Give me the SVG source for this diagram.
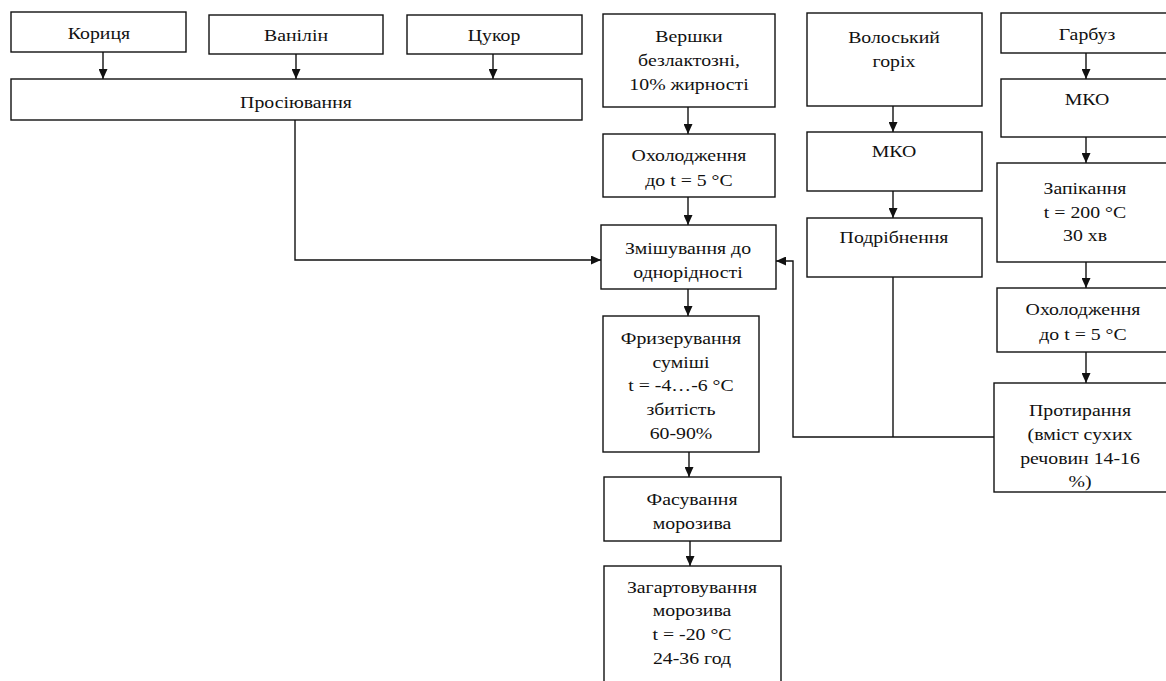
<svg xmlns="http://www.w3.org/2000/svg" width="1166" height="681" viewBox="0 0 1166 681" font-family="'Liberation Serif', 'DejaVu Serif', serif">
<defs>
<style>
rect{fill:#fff;stroke:#111;stroke-width:1.4}
text{font-family:'Liberation Serif','DejaVu Serif',serif;font-size:16.5px;fill:#111;text-anchor:middle}
.c{fill:none;stroke:#111;stroke-width:1.4}
</style>
<marker id="ah" markerUnits="userSpaceOnUse" markerWidth="10" markerHeight="9" refX="10" refY="4.5" orient="auto">
<path d="M0,0 L10,4.5 L0,9 z" fill="#111"/>
</marker>
</defs>
<rect x="0" y="0" width="1166" height="681" style="fill:#fff;stroke:none"/>
<g id="connectors">
<path class="c" marker-end="url(#ah)" d="M103,52 V79"/>
<path class="c" marker-end="url(#ah)" d="M296,54 V79"/>
<path class="c" marker-end="url(#ah)" d="M493,54 V79"/>
<path class="c" marker-end="url(#ah)" d="M295,120 V260 H601"/>
<path class="c" marker-end="url(#ah)" d="M688,107 V134"/>
<path class="c" marker-end="url(#ah)" d="M688,197 V225"/>
<path class="c" marker-end="url(#ah)" d="M688,289 V316"/>
<path class="c" marker-end="url(#ah)" d="M689,452 V477"/>
<path class="c" marker-end="url(#ah)" d="M690,541 V566"/>
<path class="c" marker-end="url(#ah)" d="M893,106 V132"/>
<path class="c" marker-end="url(#ah)" d="M893,191 V218"/>
<path class="c" d="M893,277 V437"/>
<path class="c" marker-end="url(#ah)" d="M994,437 H793 V261 H776"/>
<path class="c" marker-end="url(#ah)" d="M1086,53 V79"/>
<path class="c" marker-end="url(#ah)" d="M1086,137 V163"/>
<path class="c" marker-end="url(#ah)" d="M1086,262 V288"/>
<path class="c" marker-end="url(#ah)" d="M1086,352 V383"/>
</g>
<g id="n-korytsia"><rect x="11" y="12" width="175" height="40"/><g transform="translate(99,0) scale(1.2,1)"><text x="0" y="39">Кориця</text></g></g>
<g id="n-vanilin"><rect x="209" y="15" width="174" height="39"/><g transform="translate(296,0) scale(1.2,1)"><text x="0" y="41">Ванілін</text></g></g>
<g id="n-tsukor"><rect x="407" y="15" width="175" height="39"/><g transform="translate(494,0) scale(1.2,1)"><text x="0" y="41">Цукор</text></g></g>
<g id="n-prosiiuvannia"><rect x="11" y="79" width="571" height="41"/><g transform="translate(296,0) scale(1.2,1)"><text x="0" y="108">Просіювання</text></g></g>
<g id="n-vershky"><rect x="603" y="14" width="172" height="93"/><g transform="translate(689,0) scale(1.2,1)"><text x="0" y="42">Вершки</text><text x="0" y="66">безлактозні,</text><text x="0" y="90">10% жирності</text></g></g>
<g id="n-okholodzhennia1"><rect x="603" y="134" width="172" height="63"/><g transform="translate(689,0) scale(1.2,1)"><text x="0" y="161">Охолодження</text><text x="0" y="186">до t = 5 °C</text></g></g>
<g id="n-zmishuvannia"><rect x="601" y="225" width="175" height="64"/><g transform="translate(688,0) scale(1.2,1)"><text x="0" y="254">Змішування до</text><text x="0" y="278">однорідності</text></g></g>
<g id="n-fryzeruvannia"><rect x="603" y="316" width="156" height="136"/><g transform="translate(681,0) scale(1.2,1)"><text x="0" y="344">Фризерування</text><text x="0" y="368">суміші</text><text x="0" y="391">t = -4…-6 °C</text><text x="0" y="415">збитість</text><text x="0" y="439">60-90%</text></g></g>
<g id="n-fasuvannia"><rect x="604" y="477" width="177" height="64"/><g transform="translate(692,0) scale(1.2,1)"><text x="0" y="505">Фасування</text><text x="0" y="529">морозива</text></g></g>
<g id="n-zahartovuvannia"><rect x="604" y="566" width="177" height="130"/><g transform="translate(692,0) scale(1.2,1)"><text x="0" y="593">Загартовування</text><text x="0" y="616">морозива</text><text x="0" y="640">t = -20 °C</text><text x="0" y="664">24-36 год</text></g></g>
<g id="n-volosky"><rect x="807" y="13" width="175" height="93"/><g transform="translate(894,0) scale(1.2,1)"><text x="0" y="43">Волоський</text><text x="0" y="67">горіх</text></g></g>
<g id="n-mko1"><rect x="807" y="132" width="175" height="59"/><g transform="translate(894,0) scale(1.2,1)"><text x="0" y="157">МКО</text></g></g>
<g id="n-podribnennia"><rect x="807" y="218" width="175" height="59"/><g transform="translate(894,0) scale(1.2,1)"><text x="0" y="243">Подрібнення</text></g></g>
<g id="n-harbuz"><rect x="1001" y="13" width="172" height="40"/><g transform="translate(1087,0) scale(1.2,1)"><text x="0" y="40">Гарбуз</text></g></g>
<g id="n-mko2"><rect x="1001" y="79" width="172" height="58"/><g transform="translate(1087,0) scale(1.2,1)"><text x="0" y="105">МКО</text></g></g>
<g id="n-zapikannia"><rect x="997" y="163" width="172" height="99"/><g transform="translate(1085,0) scale(1.2,1)"><text x="0" y="194">Запікання</text><text x="0" y="218">t = 200 °C</text><text x="0" y="241">30 хв</text></g></g>
<g id="n-okholodzhennia2"><rect x="997" y="288" width="172" height="64"/><g transform="translate(1083,0) scale(1.2,1)"><text x="0" y="315">Охолодження</text><text x="0" y="340">до t = 5 °C</text></g></g>
<g id="n-protyrannia"><rect x="994" y="383" width="173" height="109"/><g transform="translate(1080,0) scale(1.2,1)"><text x="0" y="416">Протирання</text><text x="0" y="440">(вміст сухих</text><text x="0" y="464">речовин 14-16</text><text x="0" y="487">%)</text></g></g>
</svg>
